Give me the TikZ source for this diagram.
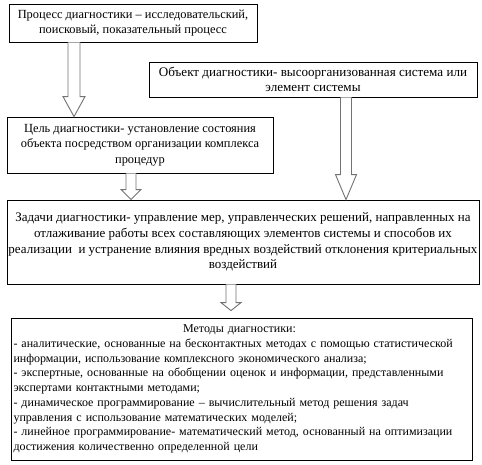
\documentclass[tikz,border=0pt]{standalone}
\usepackage{fontspec}
\setmainfont{Liberation Serif}
\usetikzlibrary{calc}
\tikzset{
  box/.style={draw=black, line width=0.8pt, inner sep=0pt, align=center, font=\fontsize{12.4}{15.6}\selectfont},
  arr/.style={draw=black!55, line width=0.9pt, fill=white}
}
\newcommand\blockarr[7]{%
  \draw[arr] let \p1=(#2.south), \p2=(#3.north) in
   (#1-#4,\y1) -- (#1-#4,\y2+#6pt+#7pt) -- (#1-#5,\y2+#6pt+#7pt) -- (#1,\y2+#7pt)
   -- (#1+#5,\y2+#6pt+#7pt) -- (#1+#4,\y2+#6pt+#7pt) -- (#1+#4,\y1);}
\newcommand\fl[1]{\makebox[452pt][s]{#1}\\}
\begin{document}
\begin{tikzpicture}[x=1pt,y=1pt]
\useasboundingbox (0,0) rectangle (482,465);
\node[box, minimum width=248pt, minimum height=38pt] (b1) at (133,442)
  {Процесс диагностики – исследовательский,\\поисковый, показательный процесс};
\node[box, minimum width=328pt, minimum height=35pt, font=\fontsize{13.1}{14.5}\selectfont] (b2) at (313,385.5)
  {Объект диагностики- высоорганизованная система или\\элемент системы};
\node[box, minimum width=266pt, minimum height=56pt] (b3) at (140,320)
  {Цель диагностики- установление состояния\\объекта посредством организации комплекса\\процедур};
\node[box, minimum width=472pt, minimum height=84pt, font=\fontsize{13}{15.7}\selectfont] (b4) at (243,223)
  {Задачи диагностики- управление мер, управленческих решений, направленных на\\
   отлаживание работы всех составляющих элементов системы и способов их\\
   реализации\ \ и устранение влияния вредных воздействий отклонения критериальных\\
   воздействий};
\node[box, minimum width=461pt, minimum height=142pt, text width=456pt, align=left, font=\fontsize{12}{14.7}\selectfont] (b5) at (241.5,76)
  {\makebox[452pt][c]{Методы диагностики:}\\
   \fl{- аналитические, основанные на бесконтактных методах с помощью статистической}
   информации, использование комплексного экономического анализа;\\
   \fl{- экспертные, основанные на обобщении оценок и информации, представленными}
   экспертами контактными методами;\\
   \fl{- динамическое программирование – вычислительный метод решения задач}
   управления с использование математических моделей;\\
   \fl{- линейное программирование- математический метод, основанный на оптимизации}
   достижения количественно определенной цели};
\blockarr{74}{b1}{b3}{6}{11}{20}{0}
\blockarr{346}{b2}{b4}{5.5}{10.5}{25}{0}
\blockarr{131}{b3}{b4}{5}{10}{10}{0}
\blockarr{231}{b4}{b5}{5}{10}{8}{7}
\end{tikzpicture}
\end{document}
